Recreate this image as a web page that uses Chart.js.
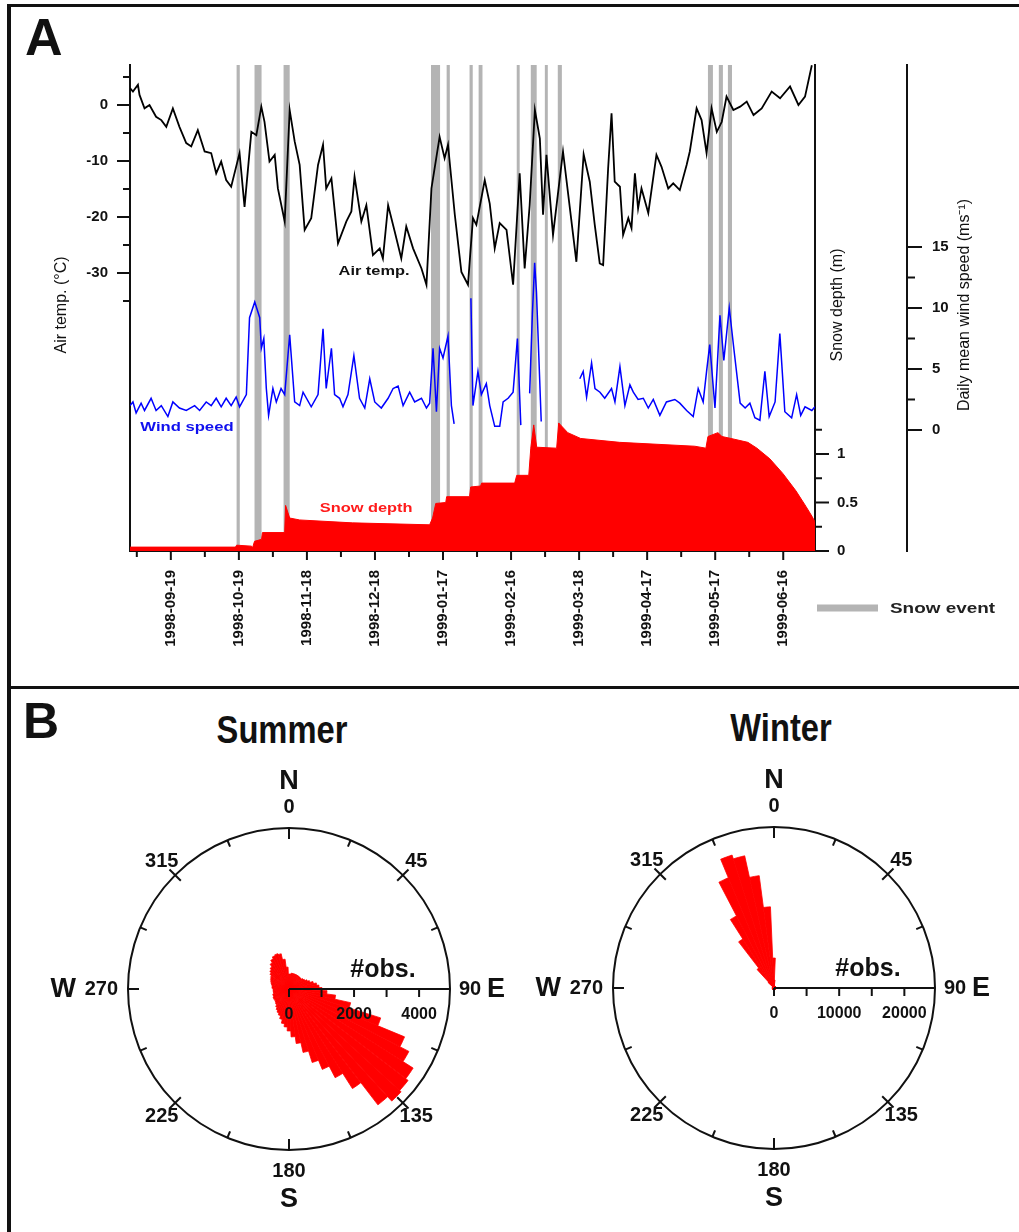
<!DOCTYPE html>
<html>
<head>
<meta charset="utf-8">
<title>Air temperature, wind speed, snow depth and wind roses</title>
<script src="https://cdn.jsdelivr.net/npm/chart.js@4.4.1/dist/chart.umd.min.js"></script>
<style>
  body { margin: 0; background: #fff; }
  #page { position: relative; width: 1019px; height: 1232px; overflow: hidden; background: #fff;
          font-family: 'Liberation Sans', Arial, Helvetica, sans-serif; }
  canvas { position: absolute; }
  .rule { position: absolute; background: #111; }
  .head { position: absolute; font-weight: bold; line-height: 1; color: #111; white-space: nowrap; }
  .season { font-size: 38px; transform: translateX(-50%) scaleX(0.86); }
</style>
</head>
<body>
<div id="page">
  <canvas id="seriesChart" width="1019" height="688" style="left:0px;top:0px"></canvas>
  <canvas id="summerRose" width="520" height="460" style="left:29px;top:759px"></canvas>
  <canvas id="winterRose" width="520" height="460" style="left:514px;top:758px"></canvas>

  <div class="rule" style="left:8px;top:4px;width:1011px;height:3px"></div>
  <div class="rule" style="left:7px;top:4px;width:4px;height:1228px"></div>
  <div class="rule" style="left:8px;top:686px;width:1011px;height:3px"></div>

  <div class="head" style="left:25px;top:11px;font-size:52px">A</div>
  <div class="head" style="left:23px;top:696px;font-size:50px">B</div>
  <div class="head season" style="left:282px;top:711px">Summer</div>
  <div class="head season" style="left:781px;top:709px">Winter</div>
</div>

<script>
// ---- Panel A data, x = days since 1998-09-01 ----
const dayMin = 0;
const dayMax = 302;

// [day, °C]
const airTemp = [
  [0, 3.0], [1.3, 2.4], [3.5, 3.6], [4.2, 1.8], [6.4, -0.6], [8.6, 0], [11.5, -2.1], [13.8, -2.7],
  [16, -3.9], [18.9, -0.6], [21.8, -3.9], [24.8, -6.8], [27, -7.4], [29.9, -4.5], [32.9, -8.3],
  [35.8, -8.6], [38, -12.2], [40.2, -10.1], [42.4, -13.4], [44.6, -14.6], [48.3, -8.6], [50.5, -18.2],
  [53.5, -4.8], [55.7, -5.4], [57.9, -0.3], [59.3, -3.0], [61.5, -10.1], [63.8, -8.9], [65.2, -14.9],
  [68.2, -20.8], [70.4, -0.9], [72.6, -6.5], [74.8, -10.7], [77, -22.3], [79.9, -20.2], [82.9, -10.7],
  [85.1, -7.1], [86.5, -14.9], [88.8, -13.1], [91.7, -24.7], [95.4, -20.8], [97.6, -19.0], [99, -12.8],
  [102, -20.8], [104.2, -17.9], [107.1, -26.8], [110.1, -25.6], [111.5, -27.4], [113.8, -17.9],
  [116.7, -22.6], [119.6, -27.4], [121.8, -21.7], [124.8, -25.6], [128.5, -29.2], [130.7, -32.1],
  [132.9, -14.9], [136.5, -5.7], [138.7, -9.5], [140.2, -7.1], [143.2, -19.6], [146.1, -29.8],
  [149, -32.1], [151.2, -20.2], [152.7, -21.4], [156.4, -13.4], [158.6, -17.6], [160.8, -25.6],
  [163, -21.1], [166, -22.3], [168.9, -32.1], [171.8, -12.2], [174, -29.2], [176.2, -17.9],
  [178.5, -0.9], [180.7, -6.0], [182.1, -19.6], [183.6, -8.9], [186.5, -23.2], [190.9, -8.3],
  [196.8, -28.0], [200, -8.8], [202.7, -13.7], [204.9, -21.4], [207.1, -28.3], [208.6, -28.6],
  [210.8, -11.3], [212.3, -1.5], [213.7, -13.7], [216, -14.6], [217.4, -23.2], [219.7, -20.2],
  [221.1, -22.0], [222.6, -12.2], [224, -18.5], [225.5, -14.9], [228.5, -19.3], [232.1, -8.9],
  [234.3, -11.0], [237.3, -14.9], [239.5, -14.0], [242.4, -15.2], [245.4, -10.7], [246.8, -8.3],
  [249.8, -0.6], [252, -2.7], [254.2, -8.6], [256.4, -0.6], [258.7, -4.8], [260.9, -3.0], [263, 1.5],
  [266, -0.9], [269, -0.3], [271.9, 0.6], [274.9, -1.8], [278.5, -0.6], [282.9, 2.4], [286.6, 1.2],
  [291, 3.3], [294.7, 0], [297.6, 1.5], [300.6, 7.1]
];

// [day, m/s], null = no data
const windSpeed = [
  [0, 2.0], [1.3, 2.3], [2.7, 1.4], [4.9, 2.2], [6.4, 1.6], [9.3, 2.6], [11.5, 1.6], [13.8, 2.0],
  [16.7, 1.1], [18.9, 2.3], [21.8, 1.8], [24.8, 1.6], [28.5, 2.0], [30.7, 1.6], [33.6, 2.3], [35.8, 2.0],
  [38, 2.6], [40.2, 1.9], [42.4, 2.6], [44.6, 2.0], [46.8, 2.7], [48.3, 1.9], [51.3, 2.9], [52.7, 9.2],
  [55, 10.5], [57.2, 9.2], [57.9, 6.7], [59, 7.5], [60.1, 3.4], [61.1, 1.2], [63, 3.4], [64.5, 2.3],
  [66.6, 3.4], [68.2, 2.9], [70.4, 7.8], [72.6, 2.3], [74.8, 2.0], [76.3, 3.1], [79.9, 1.9], [82.9, 2.9],
  [85.1, 8.3], [86.5, 3.4], [88.8, 6.7], [90.2, 2.9], [92.4, 2.6], [93.9, 1.9], [96.1, 2.9], [98.7, 6.1],
  [101.2, 2.6], [103.5, 1.8], [105.7, 4.2], [107.9, 2.3], [110.8, 1.8], [113.8, 2.6], [116, 3.4],
  [118.2, 3.6], [120.4, 2.0], [123.3, 3.1], [125.5, 2.3], [128.5, 2.6], [130.7, 1.8], [132.1, 2.2],
  [133.6, 6.7], [135.1, 1.5], [136.5, 6.7], [138, 5.9], [140.2, 7.7], [141.7, 2.0], [142.9, 0.5],
  [146, null],
  [150.3, 10.8], [151.2, 2.0], [153.4, 4.8], [154.9, 2.9], [157.1, 3.8], [158.6, 2.0], [160.8, 0.3],
  [163, 0.3], [164.5, 2.3], [166.7, 2.6], [168.9, 3.1], [170.8, 7.5], [172.3, 0.4],
  [174, null],
  [176.2, 3.0], [177.4, 9.5], [178.4, 13.7], [179.2, 11.3], [181.3, 0.7],
  [190, null],
  [198.3, 4.2], [199.8, 4.8], [201.3, 2.7], [203.5, 5.5], [205, 3.4], [207.2, 3.1], [209.3, 2.6],
  [212.3, 3.4], [213.8, 2.3], [216, 5.2], [218.2, 2.0], [220.4, 3.7], [221.9, 3.1], [224, 2.5],
  [226.3, 2.6], [228.5, 1.8], [230.7, 2.5], [233.6, 1.2], [236.5, 2.3], [240.2, 2.5], [242.4, 2.2],
  [245.4, 1.6], [248.3, 1.1], [250.5, 3.4], [252.7, 2.3], [254.2, 4.8], [255.6, 7.0], [257.9, 1.8],
  [260.1, 9.4], [261.8, 5.7], [264.2, 10.0], [266.2, 6.7], [269, 2.2], [271.2, 1.8], [273.3, 2.2],
  [275.5, 1.0], [277.7, 0.8], [279.9, 4.8], [281.8, 1.1], [284.4, 2.3], [286.5, 7.9], [288.7, 1.5],
  [291.7, 1.0], [293.9, 2.9], [295.7, 1.2], [297.6, 1.9], [300.6, 1.6], [302, 1.9]
];

// [day, m]
const snowDepth = [
  [0, 0.04], [46.5, 0.04], [47, 0.06], [53.6, 0.05], [54, 0.03], [54.9, 0.10], [58, 0.12], [58.4, 0.19],
  [68.2, 0.19], [68.6, 0.47], [70.4, 0.34], [74.8, 0.32], [98.1, 0.29], [132.1, 0.27], [133.4, 0.34],
  [134.8, 0.49], [139.2, 0.50], [139.6, 0.56], [149.7, 0.56], [150.2, 0.66], [154.6, 0.67], [155, 0.70],
  [169.6, 0.70], [170.5, 0.78], [175.8, 0.78], [176.7, 1.06], [178, 1.30], [179.3, 1.07], [188.1, 1.06],
  [189, 1.32], [193, 1.22], [198.7, 1.16], [215.9, 1.12], [249, 1.08], [253.9, 1.06], [254.8, 1.18],
  [259.2, 1.22], [261, 1.18], [265, 1.16], [272.4, 1.12], [276.4, 1.06], [282.1, 0.95], [287.8, 0.80],
  [293.6, 0.62], [298, 0.46], [300.6, 0.36], [302, 0.30]
];

// snow events, [start day, end day]
const snowEvents = [
  [47.0, 48.4], [54.9, 58.0], [67.7, 70.4], [132.7, 136.7], [139.6, 141.0], [149.7, 151.1],
  [153.7, 155.4], [170.5, 171.8], [176.7, 179.3], [182.9, 184.2], [188.6, 190.4],
  [254.8, 257.0], [259.6, 261.4], [263.6, 265.4]
];

const dateTickDays = [18, 48, 78, 108, 138, 168, 198, 228, 258, 288];
const dateTickLabels = ['1998-09-19', '1998-10-19', '1998-11-18', '1998-12-18', '1999-01-17',
                        '1999-02-16', '1999-03-18', '1999-04-17', '1999-05-17', '1999-06-16'];
const minorDateTickDays = [3, 33, 63, 93, 123, 153, 183, 213, 243, 273];

const tempTicks = [-35, -30, -25, -20, -15, -10, -5, 0, 5];
const tempLabels = [-30, -20, -10, 0];
const snowTicks = [0, 0.25, 0.5, 0.75, 1, 1.25];
const snowLabels = [0, 0.5, 1];
const windTicks = [0, 2.5, 5, 7.5, 10, 12.5, 15];
const windLabels = [0, 5, 10, 15];

// ---- Panel B data, 5 degree direction bins ----
const roseDirections = [0, 5, 10, 15, 20, 25, 30, 35, 40, 45, 50, 55, 60, 65, 70, 75, 80, 85, 90, 95,
  100, 105, 110, 115, 120, 125, 130, 135, 140, 145, 150, 155, 160, 165, 170, 175, 180, 185, 190, 195,
  200, 205, 210, 215, 220, 225, 230, 235, 240, 245, 250, 255, 260, 265, 270, 275, 280, 285, 290, 295,
  300, 305, 310, 315, 320, 325, 330, 335, 340, 345, 350, 355];

const summerCounts = [
  460, 460, 490, 490, 490, 490, 490, 490, 490, 490, 490, 525,
  555, 615, 675, 770, 860, 925, 1015, 1170, 1445, 1940, 2955, 3845,
  4155, 4525, 4615, 4675, 4490, 3630, 3075, 2675, 2370, 2000, 1690, 1475,
  1290, 1170, 1075, 955, 860, 800, 740, 675, 615, 585, 555, 555,
  555, 525, 525, 490, 490, 490, 490, 525, 525, 555, 585, 615,
  645, 675, 740, 800, 860, 955, 1045, 1110, 1140, 1110, 925, 675
];

const winterCounts = [
  4600, 1230, 300, 300, 300, 300, 300, 300, 300, 300, 300, 300,
  300, 300, 300, 300, 300, 300, 300, 300, 300, 300, 300, 300,
  300, 300, 300, 300, 300, 300, 300, 300, 300, 300, 300, 300,
  300, 300, 300, 300, 300, 300, 300, 300, 300, 300, 300, 300,
  300, 300, 300, 300, 300, 300, 300, 300, 300, 300, 300, 300,
  300, 300, 300, 1230, 3850, 8920, 12460, 18300, 21380, 20770, 17380, 12460
];

const summerObsTicks = [0, 1000, 2000, 3000, 4000];
const summerObsLabels = [0, 2000, 4000];
const winterObsTicks = [0, 5000, 10000, 15000, 20000];
const winterObsLabels = [0, 10000, 20000];
const compassNumbers = [[0, '0'], [45, '45'], [135, '135'], [180, '180'], [225, '225'], [315, '315']];

// ---- shared style ----
const FONT = "'Liberation Sans', Arial, Helvetica, sans-serif";
Chart.defaults.font.family = FONT;
Chart.defaults.color = '#111';
const INK = '#111';
const EVENT_GREY = '#b4b4b4';
const tickFont = { size: 15, weight: 'bold' };
const hiddenGrid = len => ({ display: true, drawOnChartArea: false, drawTicks: true, tickLength: len, color: 'rgba(0,0,0,0)' });
const axisLine = { display: true, color: INK, width: 2 };
const fixTicks = values => scale => { scale.ticks = values.map(v => ({ value: v })); };
const xTicks = minorDateTickDays.concat(dateTickDays).sort((a, b) => a - b);
const toPoints = arr => arr.map(([x, y]) => ({ x, y }));

function wideText(ctx, text, x, y, font, color, sx, align) {
  ctx.save();
  ctx.translate(x, y);
  ctx.scale(sx, 1);
  ctx.font = font;
  ctx.fillStyle = color;
  ctx.textAlign = align || 'center';
  ctx.textBaseline = 'middle';
  ctx.fillText(text, 0, 0);
  ctx.restore();
}

function upText(ctx, text, x, y, font) {
  ctx.save();
  ctx.translate(x, y);
  ctx.rotate(-Math.PI / 2);
  ctx.font = font;
  ctx.fillStyle = INK;
  ctx.textAlign = 'center';
  ctx.textBaseline = 'middle';
  ctx.fillText(text, 0, 0);
  ctx.restore();
}

// grey snow-event bands behind the series
const snowEventBands = {
  id: 'snowEventBands',
  beforeDatasetsDraw(chart) {
    const { ctx, chartArea, scales: { x } } = chart;
    ctx.save();
    ctx.fillStyle = EVENT_GREY;
    snowEvents.forEach(([a, b]) => {
      const x0 = x.getPixelForValue(a);
      const x1 = x.getPixelForValue(b);
      ctx.fillRect(x0, chartArea.top, x1 - x0, chartArea.bottom - chartArea.top);
    });
    ctx.restore();
  }
};

// tick marks (long ones carry a label), axis titles, inline labels, legend
const panelDecor = {
  id: 'panelDecor',
  afterDraw(chart) {
    const { ctx, chartArea, scales: { x, yT, yS, yW } } = chart;
    ctx.save();
    ctx.strokeStyle = INK;
    ctx.lineWidth = 2;
    const mark = (x0, y0, x1, y1) => { ctx.beginPath(); ctx.moveTo(x0, y0); ctx.lineTo(x1, y1); ctx.stroke(); };

    xTicks.forEach(d => {
      const px = x.getPixelForValue(d);
      mark(px, x.top, px, x.top + (dateTickDays.includes(d) ? 9 : 6));
    });
    tempTicks.forEach(v => {
      const py = yT.getPixelForValue(v);
      mark(yT.right - (tempLabels.includes(v) ? 13 : 7), py, yT.right, py);
    });
    snowTicks.forEach(v => {
      const py = yS.getPixelForValue(v);
      mark(yS.left, py, yS.left + (snowLabels.includes(v) ? 14 : 7), py);
    });
    windTicks.forEach(v => {
      const py = yW.getPixelForValue(v);
      mark(yW.left, py, yW.left + (windLabels.includes(v) ? 15 : 8), py);
    });

    const midY = (chartArea.top + chartArea.bottom) / 2 - 3;
    const titleFont = `16px ${FONT}`;
    upText(ctx, 'Air temp. (°C)', yT.left + 62, midY, titleFont);
    upText(ctx, 'Snow depth (m)', yS.left + 23, midY, titleFont);
    upText(ctx, 'Daily mean wind speed (ms⁻¹)', yW.left + 58, midY, titleFont);

    const small = `bold 13px ${FONT}`;
    wideText(ctx, 'Air temp.', x.getPixelForValue(107.6), yT.getPixelForValue(-29.8), small, '#111', 1.26);
    wideText(ctx, 'Wind speed', x.getPixelForValue(25.1), yW.getPixelForValue(0.25), small, '#1010ee', 1.28);
    wideText(ctx, 'Snow depth', x.getPixelForValue(104.1), yS.getPixelForValue(0.44), small, '#ff1a1a', 1.26);

    // legend
    const ly = chartArea.bottom + 57;
    ctx.strokeStyle = EVENT_GREY;
    ctx.lineWidth = 7;
    mark(chartArea.right + 2, ly, chartArea.right + 63, ly);
    wideText(ctx, 'Snow event', chartArea.right + 75, ly + 1, `bold 14px ${FONT}`, '#222', 1.35, 'left');
    ctx.restore();
  }
};

new Chart(document.getElementById('seriesChart'), {
  type: 'line',
  data: {
    datasets: [
      { label: 'Air temp.', data: toPoints(airTemp), yAxisID: 'yT', borderColor: '#000',
        borderWidth: 1.8, pointRadius: 0, tension: 0, fill: false },
      { label: 'Wind speed', data: toPoints(windSpeed), yAxisID: 'yW', borderColor: '#0000ff',
        borderWidth: 1.5, pointRadius: 0, tension: 0, fill: false, spanGaps: false },
      { label: 'Snow depth', data: toPoints(snowDepth), yAxisID: 'yS', borderColor: '#ff0000',
        backgroundColor: '#ff0000', borderWidth: 1, pointRadius: 0, tension: 0, fill: 'origin' }
    ]
  },
  options: {
    responsive: false,
    animation: false,
    devicePixelRatio: 1,
    events: [],
    layout: { padding: { top: 65, left: 0, right: 0, bottom: 0 } },
    plugins: { legend: { display: false }, tooltip: { enabled: false } },
    scales: {
      x: {
        type: 'linear', min: dayMin, max: dayMax, bounds: 'data',
        afterBuildTicks: fixTicks(xTicks),
        afterFit: s => { s.height = 137; },
        grid: hiddenGrid(9),
        border: axisLine,
        ticks: {
          autoSkip: false, minRotation: 90, maxRotation: 90, padding: 10, font: tickFont,
          callback: v => { const i = dateTickDays.indexOf(v); return i < 0 ? '' : dateTickLabels[i]; }
        }
      },
      yT: {
        type: 'linear', position: 'left', min: -79.64, max: 7.14, bounds: 'data',
        afterBuildTicks: fixTicks(tempTicks),
        afterFit: s => { s.width = 130; },
        grid: hiddenGrid(13),
        border: axisLine,
        ticks: { padding: 9, font: tickFont, callback: v => tempLabels.includes(v) ? String(v) : '' }
      },
      yS: {
        type: 'linear', position: 'right', weight: 0, min: 0, max: 5.01, bounds: 'data',
        afterBuildTicks: fixTicks(snowTicks),
        afterFit: s => { s.width = 92; },
        grid: hiddenGrid(14),
        border: axisLine,
        ticks: { padding: 8, font: tickFont, callback: v => snowLabels.includes(v) ? String(v) : '' }
      },
      yW: {
        type: 'linear', position: 'right', weight: 1, min: -9.92, max: 29.92, bounds: 'data',
        afterBuildTicks: fixTicks(windTicks),
        afterFit: s => { s.width = 112; },
        grid: hiddenGrid(15),
        border: axisLine,
        ticks: { padding: 10, font: tickFont, callback: v => windLabels.includes(v) ? String(v) : '' }
      }
    }
  },
  plugins: [snowEventBands, panelDecor]
});

// ---- Panel B: wind roses ----
const roseFrame = {
  id: 'roseFrame',
  afterDatasetsDraw(chart, args, opts) {
    const { ctx } = chart;
    const r = chart.scales.r;
    const cx = r.xCenter, cy = r.yCenter, R = r.drawingArea;
    const pt = (deg, dist) => {
      const a = deg * Math.PI / 180;
      return [cx + dist * Math.sin(a), cy - dist * Math.cos(a)];
    };
    const seg = (a, b) => { ctx.beginPath(); ctx.moveTo(a[0], a[1]); ctx.lineTo(b[0], b[1]); ctx.stroke(); };

    ctx.save();
    ctx.strokeStyle = INK;
    ctx.fillStyle = INK;
    ctx.lineWidth = 2;
    ctx.beginPath();
    ctx.arc(cx, cy, R, 0, Math.PI * 2);
    ctx.stroke();

    for (let k = 0; k < 16; k++) {
      const deg = k * 22.5;
      if (k % 4 === 0) seg(pt(deg, R - 11), pt(deg, R));
      else if (k % 2 === 0) seg(pt(deg, R - 8), pt(deg, R + 8));
      else seg(pt(deg, R - 7), pt(deg, R));
    }

    // #obs. axis towards E
    seg([cx, cy], [cx + R, cy]);
    opts.ticks.forEach(v => {
      const px = cx + r.getDistanceFromCenterForValue(v);
      seg([px, cy], [px, cy + 8]);
    });
    ctx.textAlign = 'center';
    ctx.textBaseline = 'middle';
    ctx.font = `bold 16px ${FONT}`;
    opts.labels.forEach(v => ctx.fillText(String(v), cx + r.getDistanceFromCenterForValue(v), cy + 26));
    ctx.font = `bold 25px ${FONT}`;
    ctx.fillText('#obs.', cx + 94, cy - 19);

    // compass labels
    ctx.font = `bold 20px ${FONT}`;
    compassNumbers.forEach(([deg, t]) => {
      const off = deg % 90 === 0 ? 21 : 19;
      const [px, py] = pt(deg, R + off);
      ctx.fillText(t, px, py);
    });
    ctx.textAlign = 'right';
    ctx.fillText('270', cx - R - 10, cy);
    ctx.textAlign = 'left';
    ctx.fillText('90', cx + R + 9, cy);

    ctx.font = `bold 27px ${FONT}`;
    ctx.textAlign = 'center';
    ctx.fillText('N', cx, cy - R - 46);
    ctx.fillText('S', cx, cy + R + 50);
    ctx.textAlign = 'right';
    ctx.fillText('W', cx - R - 52, cy + 1);
    ctx.textAlign = 'left';
    ctx.fillText('E', cx + R + 37, cy + 1);
    ctx.restore();
  }
};

function makeRose(id, counts, maxObs, obsTicks, obsLabels) {
  return new Chart(document.getElementById(id), {
    type: 'polarArea',
    data: {
      labels: roseDirections,
      datasets: [{ data: counts, backgroundColor: '#ff0000', borderColor: '#ff0000', borderWidth: 0.8 }]
    },
    options: {
      responsive: false,
      animation: false,
      devicePixelRatio: 1,
      events: [],
      layout: { padding: { left: 99, right: 99, top: 69, bottom: 69 } },
      plugins: {
        legend: { display: false },
        tooltip: { enabled: false },
        roseFrame: { ticks: obsTicks, labels: obsLabels }
      },
      scales: {
        r: {
          min: 0, max: maxObs, startAngle: -2.5,
          ticks: { display: false },
          grid: { display: false },
          angleLines: { display: false },
          pointLabels: { display: false }
        }
      }
    },
    plugins: [roseFrame]
  });
}

makeRose('summerRose', summerCounts, 4950, summerObsTicks, summerObsLabels);
makeRose('winterRose', winterCounts, 24700, winterObsTicks, winterObsLabels);
</script>
</body>
</html>
